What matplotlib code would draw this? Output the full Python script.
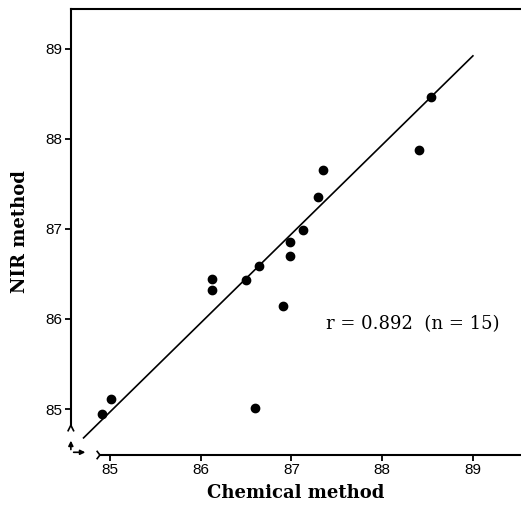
import numpy as np
import matplotlib
matplotlib.use("Agg")
import matplotlib.pyplot as plt

# chemical method vs NIR method
chem = [84.91, 85.01, 86.12, 86.12, 86.50, 86.64, 86.98, 86.98, 87.13,
        87.29, 87.35, 86.91, 86.60, 88.41, 88.54]
nir = [84.94, 85.11, 86.44, 86.32, 86.43, 86.59, 86.85, 86.70, 86.99,
       87.35, 87.65, 86.14, 85.01, 87.87, 88.46]
fit_x = [84.71, 89.0]
fit_y = [84.68, 88.92]
ticks = [85, 86, 87, 88, 89]
label_r = "r = 0.892  (n = 15)"

fig = plt.figure(figsize=(5.21, 5.15), dpi=100)
ax = fig.add_axes([0.136, 0.1165, 0.864, 0.866])

ax.scatter(chem, nir, s=36, color="black", zorder=3)
ax.plot(fit_x, fit_y, color="black", lw=1.2)

ax.set_xlim(84.57, 89.53)
ax.set_ylim(84.49, 89.44)
ax.set_xticks(ticks)
ax.set_yticks(ticks)
ax.set_xticklabels([str(t) for t in ticks], family="Liberation Sans", fontsize=11)
ax.set_yticklabels([str(t) for t in ticks], family="Liberation Sans", fontsize=11)
ax.tick_params(direction="out", length=4, width=1.3, pad=2)

ax.spines["right"].set_visible(False)
ax.spines["top"].set_linewidth(1.5)
ax.spines["left"].set_linewidth(1.5)
ax.spines["bottom"].set_linewidth(1.5)
ax.spines["left"].set_bounds(84.82, 89.44)
ax.spines["bottom"].set_bounds(84.89, 89.53)

# axis break marks and origin arrows
ax.plot([84.54, 84.57, 84.60], [84.76, 84.82, 84.76], color="black", lw=1.2, clip_on=False)
ax.plot([84.86, 84.89, 84.86], [84.45, 84.49, 84.53], color="black", lw=1.2, clip_on=False)
ax.annotate("", xy=(84.57, 84.68), xytext=(84.57, 84.52),
            arrowprops=dict(arrowstyle="-|>", color="black", lw=1.2, mutation_scale=7),
            annotation_clip=False)
ax.annotate("", xy=(84.76, 84.52), xytext=(84.57, 84.52),
            arrowprops=dict(arrowstyle="-|>", color="black", lw=1.2, mutation_scale=7),
            annotation_clip=False)

ax.text(87.38, 85.94, label_r, family="DejaVu Serif", fontsize=13, va="center")

ax.set_xlabel("Chemical method", family="DejaVu Serif", fontweight="bold", fontsize=13, labelpad=5)
ax.set_ylabel("NIR method", family="DejaVu Serif", fontweight="bold", fontsize=13, labelpad=12)

fig.savefig("out.png", dpi=100)
